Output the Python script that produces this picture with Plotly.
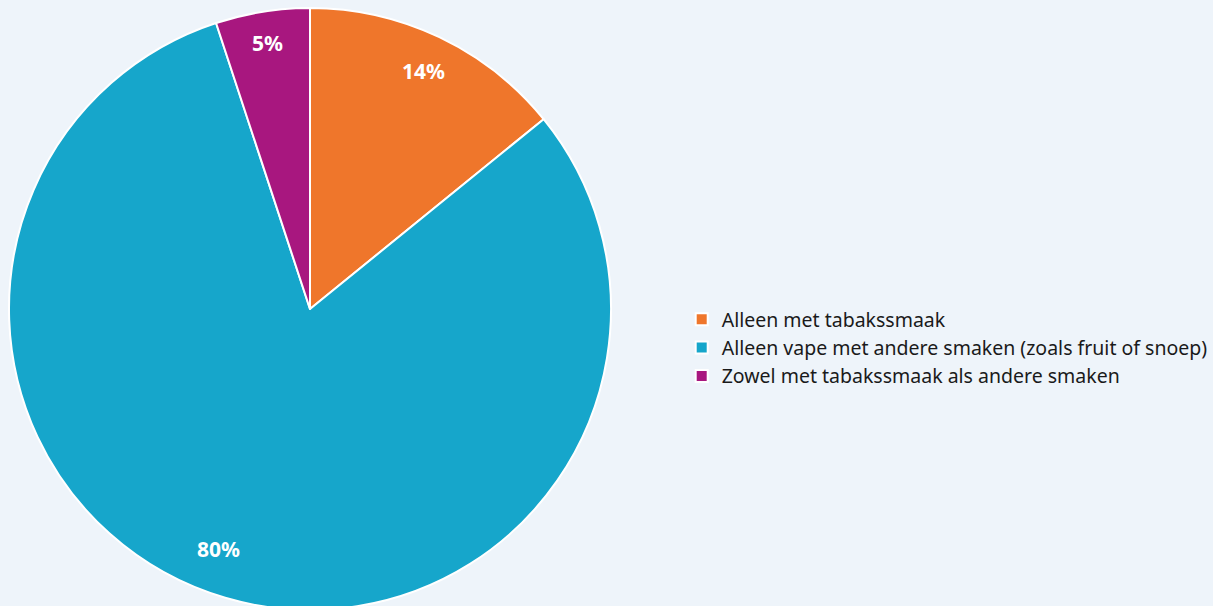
import math
import plotly.graph_objects as go

labels = ["Alleen met tabakssmaak",
          "Alleen vape met andere smaken (zoals fruit of snoep)",
          "Zowel met tabakssmaak als andere smaken"]
values = [14, 80, 5]
colors = ["#EF762B", "#16A6CB", "#A8177F"]

W, H = 1213, 618          # layout slightly taller than the 606 window; bottom is cropped like the reference
cx, cy, R = 310, 309, 301
R_text = 299

fig = go.Figure(go.Pie(
    labels=labels, values=values, sort=False, direction="clockwise", rotation=0,
    marker=dict(colors=colors, line=dict(color="white", width=2)),
    textinfo="none", hoverinfo="label+value",
    domain=dict(x=[(cx - R) / W, (cx + R) / W], y=[0, 1]),
))

total = sum(values)
cum = 0
rfac = [0.88, 0.86, 0.9]
dang = [0, 4.5, 0]
for v, f, da in zip(values, rfac, dang):
    mid = (cum + v / 2) / total * 2 * math.pi + math.radians(da)
    cum += v
    px = cx + f * R_text * math.sin(mid)
    py = cy - f * R_text * math.cos(mid)
    fig.add_annotation(x=px / W, y=1 - py / H, xref="paper", yref="paper",
                       xanchor="center", yanchor="middle",
                       text=f"<b>{v}%</b>", showarrow=False,
                       font=dict(color="white", size=21, family="Noto Sans"))

fig.update_layout(
    width=W, height=H, margin=dict(l=0, r=0, t=0, b=0),
    paper_bgcolor="#EEF4FA", plot_bgcolor="#EEF4FA",
    font=dict(family="Noto Sans", size=19.5, color="#1a1a1a"),
    legend=dict(x=0.562, y=1 - 348 / H, xanchor="left", yanchor="middle",
                font=dict(size=19.5), itemwidth=30, tracegroupgap=0),
)
fig.write_html("out.html", config={"displayModeBar": False},
               post_script="document.body.style.margin='0';document.body.style.overflow='hidden';")
